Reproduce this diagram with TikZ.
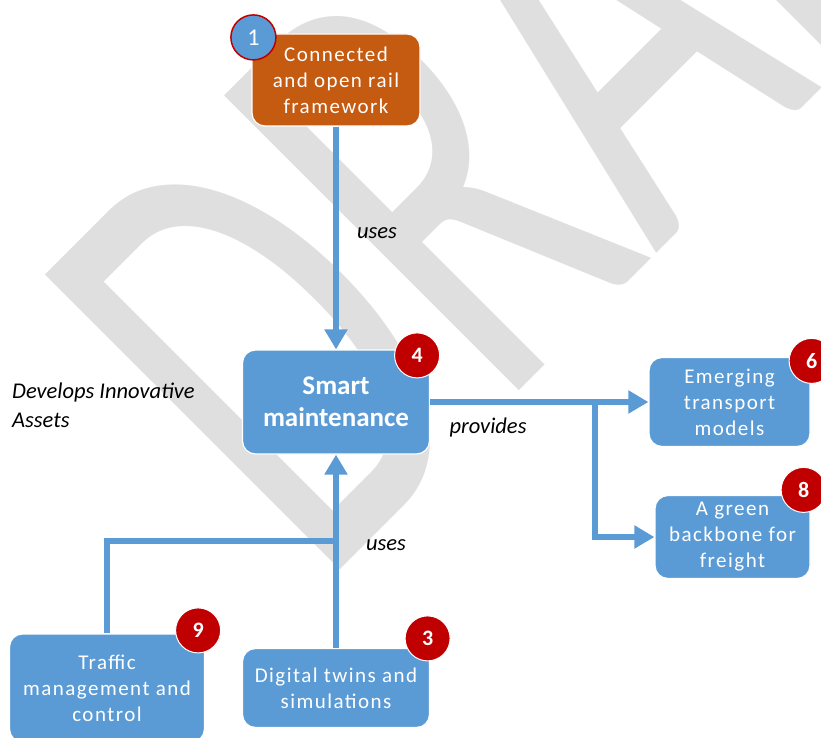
\documentclass[tikz,border=0pt]{standalone}
\usepackage{fontspec}
\usepackage{graphicx}
\setmainfont{Carlito}
\newfontfamily\boxfont[LetterSpace=7]{Carlito}
\usetikzlibrary{shapes,arrows.meta,calc,positioning}
\definecolor{boxblue}{HTML}{5B9BD5}
\definecolor{railorange}{HTML}{C55A11}
\definecolor{badgered}{HTML}{C00000}
\definecolor{wmgray}{HTML}{DFDFDF}
\tikzstyle{box}=[draw=white, line width=1.2pt, fill=boxblue, rounded corners=13pt, text=white, align=center, inner sep=0pt, font=\boxfont\fontsize{21}{26}\selectfont]
\tikzstyle{badge}=[circle, draw=white, line width=1pt, fill=badgered, text=white, minimum size=45pt, inner sep=0pt, font=\bfseries\fontsize{22}{22}\selectfont]
\tikzstyle{arrow}=[draw=boxblue, line width=6pt, -{Triangle[length=20pt,width=22pt]}]
\tikzstyle{link}=[draw=boxblue, line width=6pt]
\tikzstyle{note}=[inner sep=0pt, align=left, font=\itshape\fontsize{22.5}{29}\selectfont]

\begin{document}
\begin{tikzpicture}[x=1pt,y=-1pt]

\path [use as bounding box, fill=white] (0,0) rectangle (821,738);
\node (watermark) [rotate=45, anchor=base west, inner sep=0pt, text=wmgray, font=\fontsize{410}{410}\selectfont] at (320,590) {\scalebox{1}[1.585]{DRAFT}};

\node (conn) [box, fill=railorange, minimum width=168pt, minimum height=92pt] at (336,80) {Connected\\and open rail\\framework};
\node (smart) [box, node distance=322pt, below of=conn, minimum width=187pt, minimum height=104pt, font=\bfseries\fontsize{27}{32}\selectfont] {Smart\\maintenance};
\node (digital) [box, node distance=286pt, below of=smart, minimum width=187pt, minimum height=79pt] {Digital twins and\\simulations};
\node (traffic) [box, node distance=229pt, left of=digital, minimum width=195pt, minimum height=108pt] {Traffic\\management and\\control};
\node (emerging) [box, node distance=393.5pt, right of=smart, minimum width=161pt, minimum height=89pt] {Emerging\\transport\\models};
\node (green) [box, node distance=135pt, below of=emerging, xshift=3pt, minimum width=155pt, minimum height=83pt] {A green\\backbone for\\freight};

\coordinate (usesjoin) at (336,541);
\coordinate (split) at (595,402);

\draw [arrow] (conn) -- (smart);
\draw [link] (traffic) |- (usesjoin);
\draw [arrow] (digital) -- (smart);
\draw [arrow] (smart) -- (emerging);
\draw [arrow] (split) |- (green);

\node (b1) [badge, fill=boxblue, draw=badgered, line width=1.5pt, font=\fontsize{24}{24}\selectfont] at ($(conn.north west)+(2,4)$) {1};
\node (b4) [badge] at ($(smart.north east)+(-13,6)$) {4};
\node (b6) [badge] at ($(emerging.north east)+(1,4)$) {6};
\node (b8) [badge] at ($(green.north east)+(-7,-5)$) {8};
\node (b9) [badge] at ($(traffic.north east)+(-7,-3)$) {9};
\node (b3) [badge] at ($(digital.north east)+(-2.5,-9.5)$) {3};

\node (usestop) [note] at (377,233) {uses};
\node (usesbottom) [note] at (386,545) {uses};
\node (provides) [note] at (488,427) {provides};
\node (develops) [note, anchor=west] at (12,405) {Develops Innovative\\Assets};

\end{tikzpicture}
\end{document}
